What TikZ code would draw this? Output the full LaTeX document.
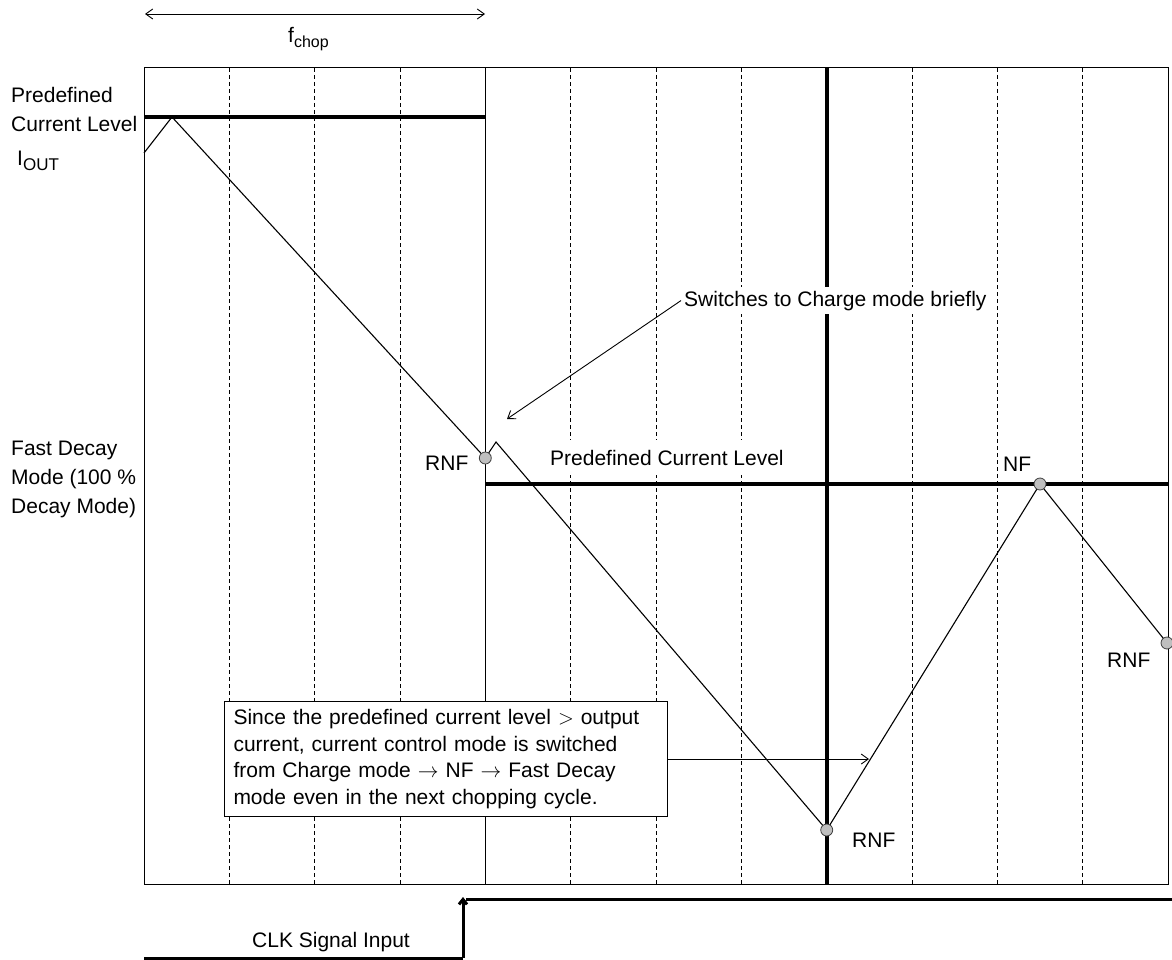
\documentclass[tikz,border=0pt]{standalone}
\usepackage{fontspec}
\setmainfont{Liberation Sans}
\usetikzlibrary{arrows.meta}
\begin{document}
\begin{tikzpicture}[x=1pt,y=-1pt,
  lbl/.style={font=\fontsize{21}{29}\selectfont, inner sep=0pt},
  framestyle/.style={line width=1pt},
  gridline/.style={line width=0.9pt, dash pattern=on 4pt off 3pt},
  levelline/.style={line width=4pt},
  wave/.style={line width=1.1pt},
  clkline/.style={line width=3pt},
  dot/.style={circle, draw=black!75, fill=black!25, minimum size=12pt, inner sep=0pt, line width=0.8pt},
  tip/.style={-{Straight Barb[length=7pt,width=10pt]}, line width=0.9pt}
]
\useasboundingbox (0,0) rectangle (1172,960);

% grid
\foreach \k in {1,2,3,5,6,7,9,10,11}
  \draw[gridline] ({144+\k*85.333},68) -- ({144+\k*85.333},884);
\draw[framestyle] (485.3,68) -- (485.3,884);
\draw[levelline] (826.7,68) -- (826.7,884);
\draw[framestyle] (144,68) rectangle (1168,884);

% predefined current levels
\coordinate (l1a) at (144,117);
\coordinate (l1b) at (485.3,117);
\coordinate (l2a) at (485.3,484);
\coordinate (l2b) at (1168,484);
\draw[levelline] (l1a) -- (l1b);
\draw[levelline] (l2a) -- (l2b);

% waveform
\coordinate (w0) at (144,153);
\coordinate (w1) at (172,117);
\coordinate (cr1) at (485.3,458);
\coordinate (w2) at (496,442);
\coordinate (cr2) at (826.7,830);
\coordinate (cnf) at (1040,484);
\coordinate (cr3) at (1167,643);
\draw[wave] (w0) -- (w1) -- (cr1) -- (w2) -- (cr2) -- (cnf) -- (cr3);
\node[dot] (r1) at (cr1) {};
\node[dot] (r2) at (cr2) {};
\node[dot] (nf) at (cnf) {};
\node[dot] (r3) at (cr3) {};

% top f_chop arrow
\coordinate (a1) at (145,14);
\coordinate (a2) at (485,14);
\draw[{Straight Barb[length=7pt,width=10pt]}-{Straight Barb[length=7pt,width=10pt]}, line width=0.9pt] (a1) -- (a2);
\node[lbl, anchor=base west] (fchop) at (288,43) {f\raisebox{-5pt}{\fontsize{16}{16}\selectfont chop}};

% left labels (base = last line)
\node[lbl, align=left, anchor=base west] (pcl1) at (11,132) {Predefined\\Current Level};
\node[lbl, anchor=base west] (iout) at (17,166) {I\raisebox{-5pt}{\fontsize{17}{17}\selectfont OUT}};
\node[lbl, align=left, anchor=base west] (fdm) at (11,513) {Fast Decay\\Mode (100 \%\\Decay Mode)};

% inner labels
\node[lbl, fill=white, inner xsep=3pt, inner ysep=4pt, anchor=base west] (sw) at (681,306) {Switches to Charge mode briefly};
\coordinate (swtip) at (507,419);
\draw[tip] (sw.west) -- (swtip);
\node[lbl, fill=white, inner xsep=2pt, inner ysep=10pt, anchor=base west] (pcl2) at (548,465) {Predefined Current Level};
\node[lbl, anchor=base west] (rnf1) at (425,470) {RNF};
\node[lbl, anchor=base west] (rnf2) at (852,847) {RNF};
\node[lbl, anchor=base west] (rnf3) at (1107,667) {RNF};
\node[lbl, anchor=base west] (nflbl) at (1003,471) {NF};

% note box
\node[draw, fill=white, line width=1pt, text width=425pt, align=left, inner xsep=9pt, inner ysep=8pt,
      anchor=north west, font=\fontsize{21}{26.5}\selectfont] (box) at (224,701)
  {Since the predefined current level $>$ output\\
   current, current control mode is switched\\
   from Charge mode $\rightarrow$ NF $\rightarrow$ Fast Decay\\
   mode even in the next chopping cycle.};
\coordinate (boxtip) at (869,757);
\draw[tip] (box.east) -- (box.east -| boxtip);

% CLK signal
\coordinate (k0) at (144,958);
\coordinate (k1) at (463,958);
\coordinate (k2) at (463,897);
\coordinate (k3) at (466,899);
\coordinate (k4) at (1172,899);
\draw[clkline] (k0) -- (k1);
\draw[clkline, -{Straight Barb[length=5pt,width=8pt]}] (k1) -- (k2);
\draw[clkline] (k3) -- (k4);
\node[lbl, anchor=base west] (clk) at (252,947) {CLK Signal Input};
\end{tikzpicture}
\end{document}
